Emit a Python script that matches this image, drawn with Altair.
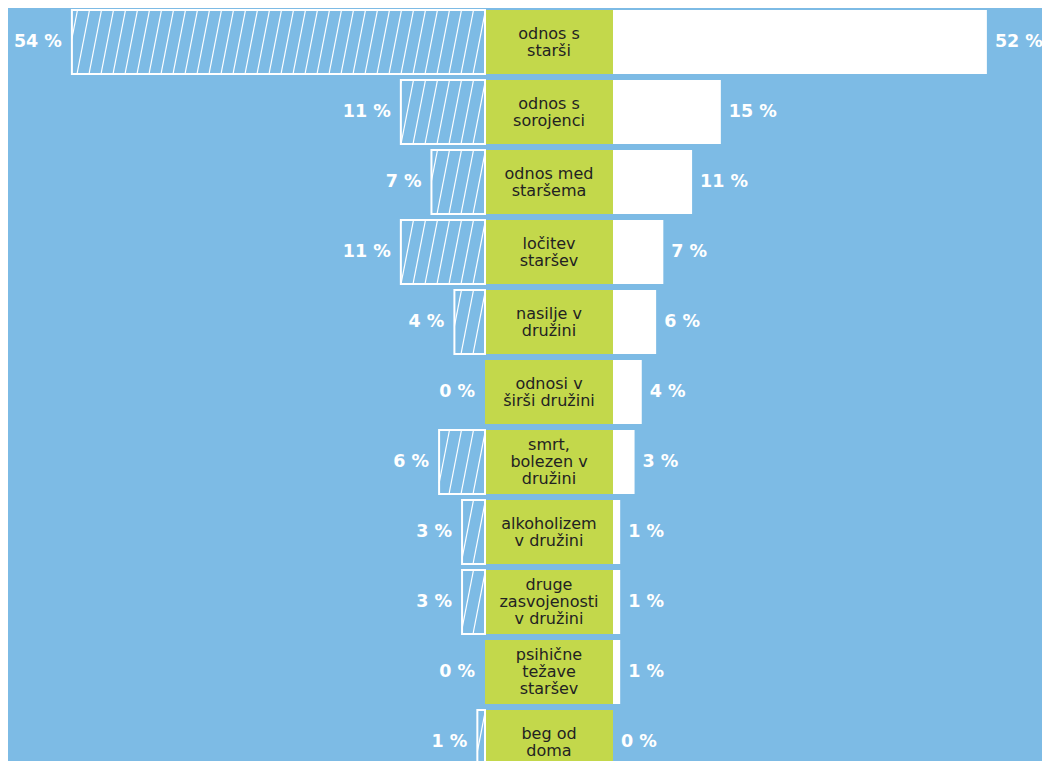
import altair as alt
import pandas as pd

# ---- data ----
categories = [
    "odnos s\nstarši",
    "odnos s\nsorojenci",
    "odnos med\nstaršema",
    "ločitev\nstaršev",
    "nasilje v\ndružini",
    "odnosi v\nširši družini",
    "smrt,\nbolezen v\ndružini",
    "alkoholizem\nv družini",
    "druge\nzasvojenosti\nv družini",
    "psihične\ntežave\nstaršev",
    "beg od\ndoma",
]
left_values = [54, 11, 7, 11, 4, 0, 6, 3, 3, 0, 1]
right_values = [52, 15, 11, 7, 6, 4, 3, 1, 1, 1, 0]

# ---- layout constants ----
W, H = 1034, 753
KL = 7.65                 # px per percent, left side
KR = 7.19                 # px per percent, right side
LEFT0 = 477               # px where left bars start (box left edge)
RIGHT0 = 605              # px where right bars start (box right edge)
BOXW = RIGHT0 - LEFT0

XL_DOM = [(LEFT0 - W) / KL, LEFT0 / KL]      # used with reverse=True
XR_DOM = [-RIGHT0 / KR, (W - RIGHT0) / KR]

PITCH = 70
FIRST = 34
Y_MIN = -FIRST / PITCH
Y_MAX = (H - FIRST) / PITCH
BH = 32 / PITCH
SP = 12 / KL              # hatch spacing (left-scale units)
SL = 12.5 / KL            # hatch slant
LINE_H = 17

BG = "#7dbbe5"
GREEN = "#c3d84b"

rows = []
for i, (c, l, r) in enumerate(zip(categories, left_values, right_values)):
    nlines = c.count("\n") + 1
    rows.append(dict(
        idx=i, cat=c, left=l, right=r, zero=0,
        top=i - BH, bot=i + BH,
        ty=i - (nlines - 1) * LINE_H / 2 / PITCH,
        bx=-BOXW / KR, cx=-BOXW / 2 / KR,
        ltxt=f"{l} %", rtxt=f"{r} %",
    ))
df = pd.DataFrame(rows)

hatch = []
for row in rows:
    if row["left"] <= 0:
        continue
    xL, xR = 0.0, float(row["left"])   # in left-scale units (outward positive)
    n = 0
    while True:
        xb = xL + n * SP              # bottom point (inner side), slants outward going up? no: mirror
        if xb >= xR + SL:
            break
        # line goes from bottom (outer-left on screen = larger value) to top (inner)
        # on screen: bottom-left to top-right => value decreases as we go up
        t0 = max(0.0, (xb - xR) / SL)
        t1 = min(1.0, (xb - xL) / SL)
        if t1 > t0:
            hatch.append(dict(
                x=xb - SL * t0, x2=xb - SL * t1,
                y=row["bot"] - 2 * BH * t0, y2=row["bot"] - 2 * BH * t1,
            ))
        n += 1
hdf = pd.DataFrame(hatch)

xl = alt.Scale(domain=XL_DOM, nice=False, zero=False, reverse=True)
xr = alt.Scale(domain=XR_DOM, nice=False, zero=False)
ys = alt.Scale(domain=[Y_MIN, Y_MAX], nice=False, zero=False, reverse=True)

base = alt.Chart(df)

left_bars = base.transform_filter("datum.left > 0").mark_rect(
    fillOpacity=0, stroke="white", strokeWidth=2
).encode(
    x=alt.X("zero:Q", scale=xl, axis=None), x2="left:Q",
    y=alt.Y("top:Q", scale=ys, axis=None), y2="bot:Q",
)

hatch_lines = alt.Chart(hdf).mark_rule(stroke="white", strokeWidth=1.2).encode(
    x=alt.X("x:Q", scale=xl, axis=None), x2="x2:Q",
    y=alt.Y("y:Q", scale=ys, axis=None), y2="y2:Q",
)

boxes = base.mark_rect(fill=GREEN).encode(
    x=alt.X("bx:Q", scale=xr, axis=None), x2="zero:Q",
    y=alt.Y("top:Q", scale=ys, axis=None), y2="bot:Q",
)

right_bars = base.transform_filter("datum.right > 0").mark_rect(fill="white").encode(
    x=alt.X("zero:Q", scale=xr, axis=None), x2="right:Q",
    y=alt.Y("top:Q", scale=ys, axis=None), y2="bot:Q",
)

pct_style = dict(fontSize=17.5, fontWeight="bold", color="white",
                 font="DejaVu Sans", baseline="middle")

left_txt = base.mark_text(align="right", dx=-10, **pct_style).encode(
    x=alt.X("left:Q", scale=xl, axis=None),
    y=alt.Y("idx:Q", scale=ys, axis=None),
    text="ltxt:N",
)
right_txt = base.mark_text(align="left", dx=8, **pct_style).encode(
    x=alt.X("right:Q", scale=xr, axis=None),
    y=alt.Y("idx:Q", scale=ys, axis=None),
    text="rtxt:N",
)
cat_txt = base.mark_text(
    align="center", baseline="middle", lineBreak="\n", fontSize=16,
    lineHeight=LINE_H, color="#222222", font="DejaVu Sans",
).encode(
    x=alt.X("cx:Q", scale=xr, axis=None),
    y=alt.Y("ty:Q", scale=ys, axis=None),
    text="cat:N",
)

chart = alt.layer(
    boxes, right_bars, left_bars, hatch_lines, left_txt, right_txt, cat_txt
).resolve_scale(x="independent").properties(
    width=W, height=H, padding=0, background=BG,
    autosize=alt.AutoSizeParams(type="none"),
).configure_view(stroke=None)

chart.save("out.html", embed_options={"renderer": "svg", "actions": False})
